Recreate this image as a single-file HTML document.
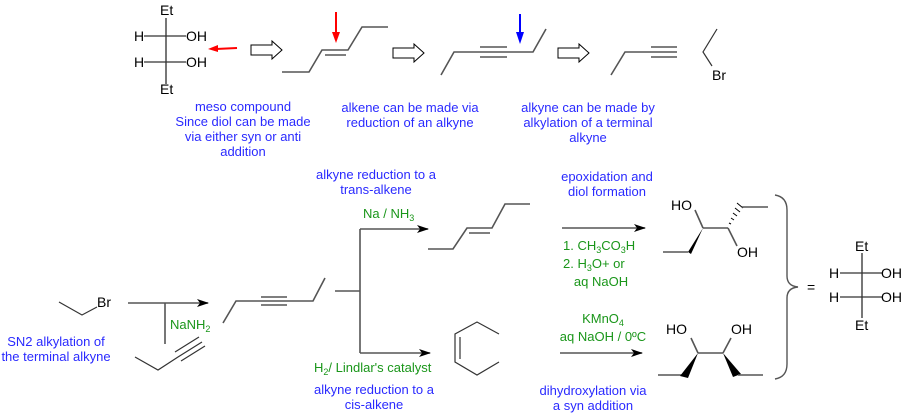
<!DOCTYPE html>
<html><head><meta charset="utf-8"><style>
html,body{margin:0;padding:0;background:#fff;}
svg{display:block;}
text{font-family:"Liberation Sans",Arial,sans-serif;}
.k{fill:#000;font-size:14px;}
.b{fill:#2a2aff;font-size:13px;text-anchor:middle;}
.g{fill:#1a961a;font-size:13px;}
.l{stroke:#555;stroke-width:1.6;fill:none;}
.t{stroke:#333;stroke-width:1.2;fill:none;}
</style></head><body>
<svg width="908" height="418" viewBox="0 0 908 418" xmlns="http://www.w3.org/2000/svg">
<defs>
<marker id="ah" markerWidth="12" markerHeight="8" refX="11" refY="4" orient="auto" markerUnits="userSpaceOnUse">
<path d="M0,0 L12,4 L0,8 L3,4 Z" fill="#000"/></marker>
</defs>
<!-- Top Fischer -->
<line class="l" x1="166" y1="18" x2="166" y2="84"/>
<line class="t" x1="144" y1="36" x2="186" y2="36"/>
<line class="t" x1="144" y1="62" x2="186" y2="62"/>
<text class="k" x="160" y="15">Et</text>
<text class="k" x="134" y="41">H</text>
<text class="k" x="186" y="41">OH</text>
<text class="k" x="134" y="67">H</text>
<text class="k" x="186" y="67">OH</text>
<text class="k" x="160" y="94">Et</text>
<!-- red arrow -->
<line x1="237" y1="48" x2="216" y2="49" stroke="#f00" stroke-width="2"/>
<path d="M208,49 L218,45 L218,52 Z" fill="#f00"/>
<!-- hollow arrows -->
<path d="M251,45 L272,45 L272,41 L282,50 L272,59 L272,55 L251,55 Z" fill="#fff" stroke="#000" stroke-width="1"/>
<path d="M393,48 L414,48 L414,44 L424,53 L414,62 L414,58 L393,58 Z" fill="#fff" stroke="#000" stroke-width="1"/>
<path d="M558,48 L579,48 L579,44 L589,53 L579,62 L579,58 L558,58 Z" fill="#fff" stroke="#000" stroke-width="1"/>
<!-- alkene top -->
<polyline class="l" points="282,72 309,72 322,50 348,50 362,27 388,27"/>
<line class="l" x1="325" y1="55" x2="346" y2="55"/>
<line x1="336" y1="12" x2="336" y2="35" stroke="#f00" stroke-width="2"/>
<path d="M332,32 L340,32 L336,43 Z" fill="#f00"/>
<!-- alkyne top -->
<polyline class="l" points="441,75 454,52 533,52 546,29"/>
<line class="l" x1="480" y1="47" x2="507" y2="47"/>
<line class="l" x1="480" y1="57" x2="507" y2="57"/>
<line x1="520" y1="14" x2="520" y2="35" stroke="#00f" stroke-width="2"/>
<path d="M516,32 L524,32 L520,44 Z" fill="#00f"/>
<!-- terminal alkyne -->
<polyline class="l" points="611,75 625,52 677,52"/>
<line class="l" x1="651" y1="47" x2="677" y2="47"/>
<line class="l" x1="651" y1="57" x2="677" y2="57"/>
<polyline class="t" points="717,29 703,52 712,66"/>
<text class="k" x="712" y="80">Br</text>
<!-- captions top -->
<text class="b" x="243" y="111">meso compound</text>
<text class="b" x="243" y="126">Since diol can be made</text>
<text class="b" x="243" y="141">via either syn or anti</text>
<text class="b" x="243" y="156">addition</text>
<text class="b" x="410" y="112">alkene can be made via</text>
<text class="b" x="410" y="127">reduction of an alkyne</text>
<text class="b" x="588" y="112">alkyne can be made by</text>
<text class="b" x="588" y="127">alkylation of a terminal</text>
<text class="b" x="588" y="142">alkyne</text>
<!-- bottom left -->
<polyline class="t" points="59,302 82,315 97,307"/>
<text class="k" x="97" y="307">Br</text>
<text class="b" x="56" y="346">SN2 alkylation of</text>
<text class="b" x="56" y="361">the terminal alkyne</text>
<line class="l" x1="128" y1="303" x2="208" y2="303" marker-end="url(#ah)"/>
<line class="l" x1="165" y1="303" x2="165" y2="344"/>
<text class="g" x="170" y="329">NaNH<tspan font-size="9" dy="3">2</tspan></text>
<polyline class="t" points="135,357 158,370 178,357 202,342"/>
<line class="t" x1="175" y1="352" x2="199" y2="337"/>
<line class="t" x1="181" y1="361" x2="205" y2="346"/>
<!-- hexyne -->
<polyline class="l" points="223,323 236,301 313,301 325,278"/>
<line class="l" x1="261" y1="297" x2="287" y2="297"/>
<line class="l" x1="261" y1="305" x2="287" y2="305"/>
<!-- branch -->
<line class="l" x1="335" y1="291" x2="360" y2="291"/>
<line class="l" x1="360" y1="229" x2="360" y2="353"/>
<line class="l" x1="360" y1="229" x2="428" y2="229" marker-end="url(#ah)"/>
<line class="l" x1="360" y1="353" x2="430" y2="353" marker-end="url(#ah)"/>
<text class="b" x="376" y="179">alkyne reduction to a</text>
<text class="b" x="376" y="194">trans-alkene</text>
<text class="g" x="363" y="218">Na / NH<tspan font-size="9" dy="3">3</tspan></text>
<text class="g" x="314" y="372">H<tspan font-size="9" dy="3">2</tspan><tspan dy="-3">/ Lindlar's catalyst</tspan></text>
<text class="b" x="374" y="394">alkyne reduction to a</text>
<text class="b" x="374" y="409">cis-alkene</text>
<!-- trans alkene -->
<polyline class="l" points="428,249 453,249 467,228 492,228 505,204 530,204"/>
<line class="l" x1="469" y1="233" x2="490" y2="233"/>
<!-- cis alkene -->
<polyline class="t" points="499,334 477,322 455,334 455,362 477,375 499,362"/>
<line class="t" x1="460" y1="337" x2="460" y2="359"/>
<!-- right arrows -->
<line class="l" x1="562" y1="228" x2="645" y2="228" marker-end="url(#ah)"/>
<text class="b" x="607" y="181">epoxidation and</text>
<text class="b" x="607" y="196">diol formation</text>
<text class="g" x="563" y="250">1. CH<tspan font-size="9" dy="3">3</tspan><tspan dy="-3">CO</tspan><tspan font-size="9" dy="3">3</tspan><tspan dy="-3">H</tspan></text>
<text class="g" x="563" y="268">2. H<tspan font-size="9" dy="3">3</tspan><tspan dy="-3">O+ or</tspan></text>
<text class="g" x="601" y="286" text-anchor="middle">aq NaOH</text>
<line class="l" x1="560" y1="353" x2="642" y2="353" marker-end="url(#ah)"/>
<text class="g" x="603" y="323" text-anchor="middle">KMnO<tspan font-size="9" dy="3">4</tspan></text>
<text class="g" x="603" y="341" text-anchor="middle">aq NaOH / 0ºC</text>
<text class="b" x="593" y="395">dihydroxylation via</text>
<text class="b" x="593" y="410">a syn addition</text>
<!-- diol 1 -->
<line class="l" x1="663" y1="252" x2="688" y2="252"/>
<path d="M688,252 L703,228 L691,254 Z" fill="#000"/>
<line class="l" x1="703" y1="228" x2="728" y2="228"/>
<line class="l" x1="703" y1="228" x2="695" y2="210"/>
<g stroke="#000" stroke-width="1">
<line x1="731" y1="224" x2="729" y2="223"/><line x1="734" y1="220" x2="731" y2="218"/>
<line x1="737" y1="216" x2="733" y2="213"/><line x1="740" y1="212" x2="735" y2="208"/>
<line x1="743" y1="208" x2="737" y2="203"/></g>
<line class="l" x1="742" y1="207" x2="768" y2="207"/>
<line class="l" x1="728" y1="228" x2="737" y2="246"/>
<text class="k" x="671" y="210">HO</text>
<text class="k" x="737" y="257">OH</text>
<!-- diol 2 -->
<line class="l" x1="658" y1="375" x2="683" y2="375"/>
<path d="M680,376 L698,353 L688,378 Z" fill="#000"/>
<line class="l" x1="698" y1="353" x2="723" y2="353"/>
<path d="M723,353 L741,374 L733,377 Z" fill="#000"/>
<line class="l" x1="738" y1="375" x2="763" y2="375"/>
<line class="l" x1="698" y1="353" x2="691" y2="338"/>
<line class="l" x1="723" y1="353" x2="731" y2="338"/>
<text class="k" x="666" y="334">HO</text>
<text class="k" x="731" y="334">OH</text>
<!-- brace -->
<path d="M775,195 Q787,197 787,210 L787,276 Q787,286 798,287 Q787,288 787,298 L787,364 Q787,377 775,379" fill="none" stroke="#555" stroke-width="1.4"/>
<text class="k" x="807" y="292">=</text>
<!-- right Fischer -->
<line class="l" x1="862" y1="253" x2="862" y2="318"/>
<line class="t" x1="840" y1="273" x2="882" y2="273"/>
<line class="t" x1="840" y1="297" x2="882" y2="297"/>
<text class="k" x="855" y="251">Et</text>
<text class="k" x="829" y="278">H</text>
<text class="k" x="881" y="278">OH</text>
<text class="k" x="829" y="302">H</text>
<text class="k" x="881" y="302">OH</text>
<text class="k" x="855" y="330">Et</text>
</svg>
</body></html>
